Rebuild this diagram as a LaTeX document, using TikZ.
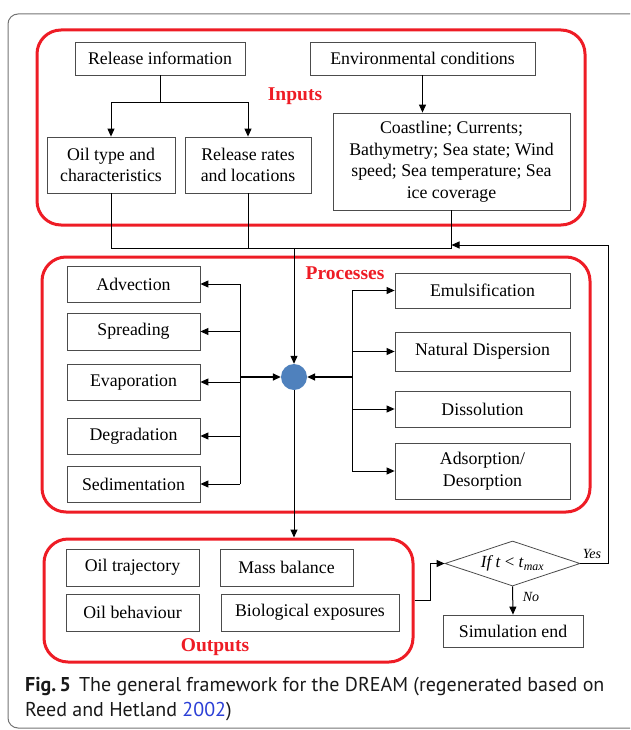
\documentclass[tikz,border=0pt]{standalone}
\usepackage{fontspec}
\setmainfont{Liberation Serif}
\newfontfamily\capfont{PT Sans}
\usetikzlibrary{shapes.geometric,arrows.meta}
\definecolor{dotblue}{HTML}{4F81BD}
\definecolor{grpred}{HTML}{EE1C25}
\definecolor{linkblue}{HTML}{2B3FD6}
\begin{document}
\begin{tikzpicture}[x=1pt,y=-1pt,
  box/.style={draw=black!70, line width=0.8pt, align=center, inner sep=0pt, font=\fontsize{17.8}{21.5}\selectfont},
  grp/.style={draw=grpred, line width=3pt, rounded corners=24pt, inner sep=0pt},
  lbl/.style={text=grpred, inner sep=0pt, font=\fontsize{19.5}{22}\selectfont\bfseries},
  arr/.style={-{Triangle[length=8pt,width=7pt]}, line width=1pt},
  ln/.style={line width=1pt},
  yn/.style={inner sep=0pt, font=\fontsize{14}{16}\selectfont\itshape},
  capt/.style={anchor=base west, inner sep=0pt, text=black!90, font=\capfont\fontsize{20}{24}\selectfont}]
\useasboundingbox (0,0) rectangle (630,730);
\clip (0,0) rectangle (630,730);
\draw[black!55, line width=1pt, rounded corners=10pt] (8,14) rectangle (650,728);

% groups
\node[grp, minimum width=548pt, minimum height=195pt] (inputs) at (311,127.5) {};
\node[grp, minimum width=548pt, minimum height=255pt] (processes) at (316,384.5) {};
\node[grp, minimum width=369pt, minimum height=123pt] (outputs) at (228.5,600.5) {};
\node[lbl] (linputs) at (295,96) {Inputs};
\node[lbl] (lprocesses) at (345,273) {Processes};
\node[lbl] (loutputs) at (215,647) {Outputs};

% inputs
\node[box, minimum width=170pt, minimum height=33pt] (rel) at (160,58.5) {Release information};
\node[box, minimum width=225pt, minimum height=33pt] (env) at (422.5,58.5) {Environmental conditions};
\node[box, minimum width=128pt, minimum height=56pt] (oil) at (111,165) {Oil type and\\characteristics};
\node[box, minimum width=126pt, minimum height=56pt] (rates) at (248,165) {Release rates\\and locations};
\node[box, minimum width=237pt, minimum height=97pt] (coast) at (451.5,161.5) {Coastline; Currents;\\Bathymetry; Sea state; Wind\\speed; Sea temperature; Sea\\ice coverage};

% processes
\node[box, minimum width=133pt, minimum height=36pt] (adv) at (133.5,284) {Advection};
\node[box, minimum width=133pt, minimum height=37pt] (spr) at (133.5,331.5) {Spreading};
\node[box, minimum width=133pt, minimum height=36pt] (eva) at (133.5,382) {Evaporation};
\node[box, minimum width=133pt, minimum height=36pt] (deg) at (133.5,436) {Degradation};
\node[box, minimum width=133pt, minimum height=36pt] (sed) at (133.5,484) {Sedimentation};
\node[box, minimum width=175pt, minimum height=35pt] (emu) at (482.5,290.5) {Emulsification};
\node[box, minimum width=175pt, minimum height=39pt] (nat) at (482.5,351.5) {Natural Dispersion};
\node[box, minimum width=175pt, minimum height=36pt] (dis) at (482.5,409) {Dissolution};
\node[box, minimum width=175pt, minimum height=56pt] (ads) at (482.5,471) {Adsorption/\\Desorption};
\node[circle, fill=dotblue, minimum size=26pt, inner sep=0pt] (hub) at (294,377) {};

% outputs
\node[box, minimum width=133pt, minimum height=37pt] (traj) at (132.5,567.5) {Oil trajectory};
\node[box, minimum width=133pt, minimum height=37pt] (mass) at (286.5,567.5) {Mass balance};
\node[box, minimum width=133pt, minimum height=37pt] (beh) at (132.5,612.5) {Oil behaviour};
\node[box, minimum width=178pt, minimum height=37pt] (bio) at (310,612.5) {Biological exposures};

% decision
\node[diamond, draw=black!70, line width=0.8pt, aspect=3, inner sep=0pt, minimum width=135pt, minimum height=45pt, font=\fontsize{17}{19}\selectfont] (dec) at (512.5,563.5) {\textit{If t} < \textit{t}\textsubscript{\textit{max}}};
\node[box, minimum width=140pt, minimum height=32pt] (sim) at (513,631) {Simulation end};
\node[yn] (yes) at (592,554) {Yes};
\node[yn] (no) at (531,597) {No};

% connectors: inputs
\coordinate (rj1) at (160,103);
\draw[ln] (rel.south) -- (rj1);
\draw[arr] (rj1) -| (oil.north);
\draw[arr] (rj1) -| (rates.north);
\draw[arr] (env.south) -- (env.south |- coast.north);
\coordinate (bus) at (294,248);
\draw[ln] (oil.south) |- (coast.south |- bus) -- (coast.south);
\draw[ln] (rates.south) -- (rates.south |- bus);
\draw[arr] (bus) -- (hub.north);
\coordinate (fbc) at (608,245);
\draw[arr] (dec.east) -| (fbc) -- (coast.south |- fbc);

% processes connectors
\coordinate (lj) at (240,377);
\draw[ln] (lj |- adv.east) -- (lj |- sed.east);
\foreach \n in {adv,spr,eva,deg,sed} \draw[arr] (lj |- \n.east) -- (\n.east);
\draw[arr, line width=1.6pt] (lj) -- (hub.west);
\coordinate (rj) at (352,377);
\draw[ln] (rj |- emu.west) -- (rj |- ads.west);
\foreach \n in {emu,nat,dis,ads} \draw[arr] (rj |- \n.west) -- (\n.west);
\draw[arr, line width=1.6pt] (rj) -- (hub.east);

% outputs connectors
\draw[arr] (hub.south) -- (hub.south |- outputs.north);
\coordinate (oj) at (430,600.5);
\draw[arr] (outputs.east) -- (oj) |- (dec.west);
\draw[arr] (dec.south) -- (sim.north);

% caption
\node[capt] (cap1) at (25,691) {\textbf{Fig.\,5}\hspace{8pt}The general framework for the DREAM (regenerated based on};
\node[capt] (cap2) at (25,716) {Reed and Hetland \textcolor{linkblue}{2002})};
\end{tikzpicture}
\end{document}
